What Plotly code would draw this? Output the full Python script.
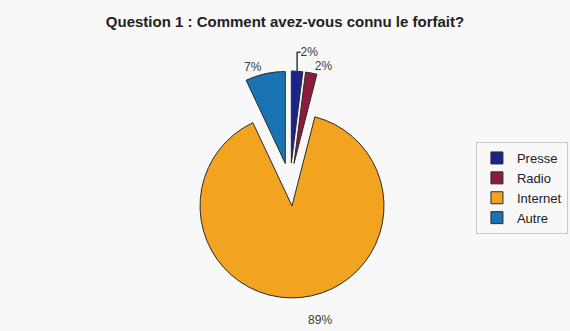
import plotly.graph_objects as go

labels = ["Presse", "Radio", "Internet", "Autre"]
values = [2, 2, 89, 7]
colors = ["#1c238a", "#8c1c3c", "#f2a31f", "#1a74b4"]
pulls = [0.234, 0.234, 0.234, 0.234]
label_templates = ["%{percent:.0%}", "%{percent:.0%}", "&nbsp;<br>%{percent:.0%}", "%{percent:.0%}"]

fig = go.Figure(go.Pie(
    labels=labels, values=values, sort=False, direction="clockwise", rotation=0,
    pull=pulls,
    marker=dict(colors=colors, line=dict(color="#2a2a2a", width=1)),
    textinfo="percent", textposition="outside",
    texttemplate=label_templates,
    textfont=dict(family="Liberation Sans, Arial", size=12, color="#3a3a3a"),
    domain=dict(x=[0.3096, 0.7079], y=[0.0997, 0.7855]),
    automargin=False,
    hoverinfo="label+percent",
))

fig.update_layout(
    width=570, height=331,
    margin=dict(l=0, r=0, t=0, b=0, autoexpand=False),
    paper_bgcolor="#f8f8f8", plot_bgcolor="#f8f8f8",
    title=dict(text="<b>Question 1 : Comment avez-vous connu le forfait?</b>",
               x=0.5, xanchor="center", y=0.933, yanchor="middle",
               font=dict(family="Liberation Sans, Arial", size=15, color="#222222")),
    legend=dict(x=0.835, xanchor="left", y=0.432, yanchor="middle",
                bordercolor="#c8c8c8", borderwidth=1, bgcolor="#f8f8f8",
                itemwidth=30,
                font=dict(family="Liberation Sans, Arial", size=13, color="#222222")),
    showlegend=True,
)

fig.write_html("out.html")
